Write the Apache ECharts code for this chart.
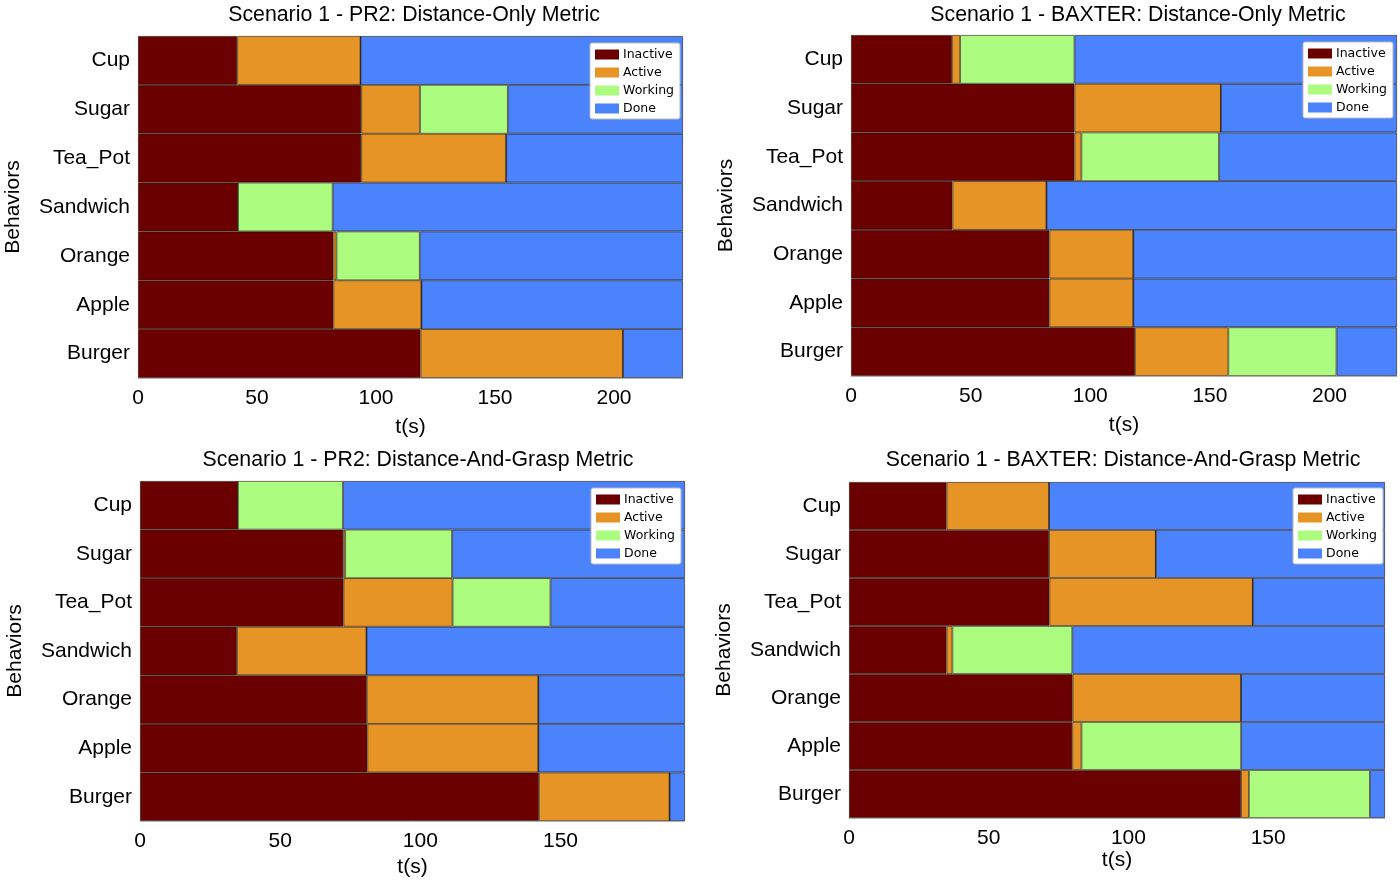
<!DOCTYPE html>
<html>
<head>
<meta charset="utf-8">
<script src="https://cdn.jsdelivr.net/npm/echarts@6/dist/echarts.min.js"></script>
<style>html,body{margin:0;padding:0;background:#fff}#c{width:1400px;height:883px}</style>
</head>
<body>
<div id="c"></div>
<script>
const categories = ['Cup', 'Sugar', 'Tea_Pot', 'Sandwich', 'Orange', 'Apple', 'Burger'];
const states = ['Inactive', 'Active', 'Working', 'Done'];
const xTicks = [0, 50, 100, 150, 200];

const titles = [
  'Scenario 1 - PR2: Distance-Only Metric',
  'Scenario 1 - BAXTER: Distance-Only Metric',
  'Scenario 1 - PR2: Distance-And-Grasp Metric',
  'Scenario 1 - BAXTER: Distance-And-Grasp Metric'
];
const xMax = [229, 228.2, 194.4, 191.8];

// Panel 1: PR2 distance-only (durations in s)
const pr2DistInactive = [41.7, 93.8, 93.8, 42.0, 82.1, 82.1, 118.7];
const pr2DistActive   = [51.8, 24.7, 60.9, 0, 1.3, 37.0, 85.1];
const pr2DistWorking  = [0, 36.9, 0, 39.8, 35.0, 0, 0];
const pr2DistDone     = [135.5, 73.6, 74.3, 147.2, 110.6, 109.9, 25.2];

// Panel 2: BAXTER distance-only
const baxDistInactive = [42.2, 93.4, 93.4, 42.4, 82.9, 82.9, 118.7];
const baxDistActive   = [3.4, 61.2, 2.9, 39.3, 35.1, 35.1, 39.0];
const baxDistWorking  = [47.8, 0, 57.5, 0, 0, 0, 45.2];
const baxDistDone     = [134.8, 73.6, 74.4, 146.5, 110.2, 110.2, 25.3];

// Panel 3: PR2 distance-and-grasp
const pr2GraspInactive = [34.9, 72.5, 72.6, 34.6, 80.9, 81.1, 142.3];
const pr2GraspActive   = [0, 0.7, 38.9, 46.2, 61.2, 61.0, 46.6];
const pr2GraspWorking  = [37.5, 38.1, 34.9, 0, 0, 0, 0];
const pr2GraspDone     = [122.0, 83.1, 48.0, 113.6, 52.3, 52.3, 5.5];

// Panel 4: BAXTER distance-and-grasp
const baxGraspInactive = [34.9, 71.6, 71.7, 34.9, 80.0, 79.9, 140.3];
const baxGraspActive   = [36.7, 38.2, 72.8, 2.1, 60.3, 3.3, 2.8];
const baxGraspWorking  = [0, 0, 0, 42.9, 0, 57.1, 43.3];
const baxGraspDone     = [120.2, 82.0, 47.3, 111.9, 51.5, 51.5, 5.4];

const panelData = [
  [pr2DistInactive, pr2DistActive, pr2DistWorking, pr2DistDone],
  [baxDistInactive, baxDistActive, baxDistWorking, baxDistDone],
  [pr2GraspInactive, pr2GraspActive, pr2GraspWorking, pr2GraspDone],
  [baxGraspInactive, baxGraspActive, baxGraspWorking, baxGraspDone]
];

const colors = ['#6b0000', '#e59425', '#acfd7f', '#4a83fb'];

// layout
const grids = [
  {left: 138, top: 36, width: 545, height: 342},
  {left: 851, top: 35, width: 546, height: 341},
  {left: 140, top: 481, width: 545, height: 340},
  {left: 849, top: 482, width: 536, height: 336}
];
const titlePos = [[409, 0], [1133, 0], [413, 445], [1118, 445]];
const legendPos = [[590, 43], [1303, 42], [591, 488], [1293, 488]];
const namePos = [39, 39, 36, 32];

const FONT = '"Liberation Sans", Arial, sans-serif';

const option = {
  animation: false,
  color: colors,
  title: titles.map((t, i) => ({
    text: t, left: titlePos[i][0], top: titlePos[i][1], textAlign: 'center',
    textStyle: {fontFamily: FONT, fontSize: 21.3, fontWeight: 'normal', color: '#000'}
  })),
  legend: legendPos.map(p => ({
    data: states, orient: 'vertical', left: p[0], top: p[1],
    itemWidth: 24, itemHeight: 10, itemGap: 5, icon: 'rect',
    itemStyle: {borderWidth: 0},
    padding: [5, 6, 4, 5], backgroundColor: '#fff', borderColor: '#bbb', borderWidth: 1, borderRadius: 2,
    textStyle: {fontFamily: '"DejaVu Sans", sans-serif', fontSize: 12.5, color: '#000', padding: [0, 0, 0, -1]},
    selectedMode: false
  })),
  grid: grids,
  xAxis: grids.map((g, i) => ({
    type: 'value', gridIndex: i, min: xTicks[0], max: xMax[i], interval: xTicks[1] - xTicks[0],
    name: 't(s)', nameLocation: 'middle', nameGap: namePos[i],
    nameTextStyle: {fontFamily: FONT, fontSize: 21, color: '#000'},
    axisLine: {show: true, lineStyle: {color: '#bbb'}},
    axisTick: {show: false}, splitLine: {show: false},
    axisLabel: {fontFamily: FONT, fontSize: 21, color: '#000', margin: 10, showMaxLabel: false}
  })),
  yAxis: grids.map((g, i) => ({
    type: 'category', gridIndex: i, data: categories, inverse: true,
    name: 'Behaviors', nameLocation: 'middle', nameGap: 114, nameRotate: 90,
    nameTextStyle: {fontFamily: FONT, fontSize: 21, color: '#000'},
    axisLine: {show: false}, axisTick: {show: false},
    axisLabel: {fontFamily: FONT, fontSize: 21, color: '#000', margin: 8}
  })),
  series: []
};

panelData.forEach((arrs, p) => {
  arrs.forEach((vals, s) => {
    option.series.push({
      type: 'bar', name: states[s], stack: 'p' + p, xAxisIndex: p, yAxisIndex: p,
      data: vals, barCategoryGap: '0%',
      itemStyle: {color: colors[s], borderColor: 'rgba(30,20,10,0.75)', borderWidth: 0.8}
    });
  });
});

const chart = echarts.init(document.getElementById('c'), null, {renderer: 'canvas'});
chart.setOption(option);
</script>
</body>
</html>
